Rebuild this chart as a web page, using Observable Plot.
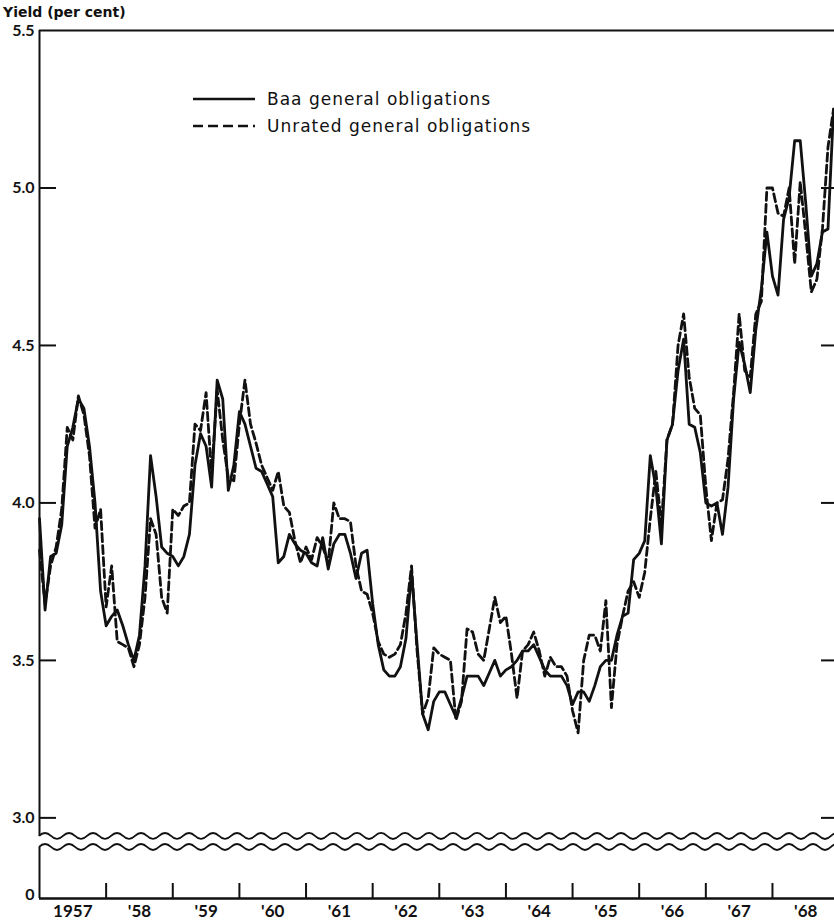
<!DOCTYPE html>
<html>
<head>
<meta charset="utf-8">
<script src="https://cdn.jsdelivr.net/npm/d3@7"></script>
<script src="https://cdn.jsdelivr.net/npm/@observablehq/plot@0.6"></script>
<style>
  body { margin: 0; background: #fff; }
  #wrap { position: relative; width: 834px; height: 921px; overflow: hidden; font-family: "DejaVu Sans", sans-serif; color: #111; }
  #chart { position: absolute; left: 0; top: 0; }
  #title { position: absolute; left: 3px; top: 4px; font-size: 14px; font-weight: bold; white-space: nowrap; }
  #legend { position: absolute; left: 193px; top: 85px; font-size: 17px; letter-spacing: 1px; }
  .row { display: flex; align-items: center; height: 27px; white-space: nowrap; }
  .row svg { width: 62px; height: 8px; margin-right: 12px; }
</style>
</head>
<body>
<div id="wrap">
  <div id="chart"></div>
  <div id="title">Yield (per cent)</div>
  <div id="legend"></div>
</div>
<script>
// ---- data (monthly, Jan 1957 .. Dec 1968) ----
const startYear = 1957;
const seriesNames = ["Baa general obligations", "Unrated general obligations"];
const baa = [
  3.95, 3.66, 3.83, 3.84, 3.93, 4.18, 4.24, 4.33, 4.30, 4.18, 4.00, 3.72,
  3.61, 3.64, 3.66, 3.61, 3.55, 3.50, 3.58, 3.80, 4.15, 4.02, 3.86, 3.84,
  3.83, 3.80, 3.83, 3.90, 4.12, 4.22, 4.18, 4.05, 4.39, 4.33, 4.04, 4.12,
  4.29, 4.25, 4.18, 4.11, 4.10, 4.06, 4.02, 3.81, 3.83, 3.90, 3.87, 3.85,
  3.84, 3.81, 3.80, 3.89, 3.79, 3.87, 3.90, 3.90, 3.84, 3.76, 3.84, 3.85,
  3.68, 3.55, 3.47, 3.45, 3.45, 3.48, 3.57, 3.78, 3.55, 3.33, 3.28, 3.37,
  3.40, 3.40, 3.36, 3.32, 3.38, 3.45, 3.45, 3.45, 3.42, 3.46, 3.50, 3.45,
  3.47, 3.48, 3.50, 3.53, 3.53, 3.55, 3.51, 3.47, 3.45, 3.45, 3.45, 3.42,
  3.36, 3.40, 3.40, 3.37, 3.42, 3.48, 3.50, 3.50, 3.58, 3.64, 3.65, 3.82,
  3.84, 3.88, 4.15, 4.05, 3.87, 4.20, 4.25, 4.42, 4.52, 4.25, 4.24, 4.16,
  4.00, 3.99, 4.00, 3.90, 4.05, 4.33, 4.51, 4.44, 4.35, 4.55, 4.68, 4.86,
  4.72, 4.66, 4.90, 4.97, 5.15, 5.15, 4.95, 4.72, 4.76, 4.86, 4.87, 5.25
];
const unrated = [
  3.85, 3.68, 3.80, 3.86, 3.98, 4.24, 4.20, 4.34, 4.28, 4.15, 3.92, 3.98,
  3.67, 3.80, 3.56, 3.55, 3.54, 3.48, 3.55, 3.70, 3.95, 3.90, 3.70, 3.65,
  3.98, 3.96, 3.99, 4.00, 4.25, 4.23, 4.35, 4.09, 4.36, 4.20, 4.08, 4.07,
  4.25, 4.39, 4.25, 4.19, 4.12, 4.08, 4.04, 4.10, 3.99, 3.97, 3.88, 3.81,
  3.86, 3.82, 3.89, 3.86, 3.81, 4.00, 3.95, 3.95, 3.94, 3.80, 3.72, 3.71,
  3.65, 3.56, 3.52, 3.51, 3.52, 3.55, 3.65, 3.80, 3.53, 3.33, 3.38, 3.54,
  3.52, 3.51, 3.50, 3.31, 3.37, 3.60, 3.59, 3.52, 3.50, 3.60, 3.70, 3.62,
  3.64, 3.52, 3.38, 3.53, 3.55, 3.59, 3.53, 3.45, 3.51, 3.48, 3.48, 3.45,
  3.34, 3.27, 3.50, 3.58, 3.58, 3.53, 3.69, 3.35, 3.55, 3.64, 3.72, 3.75,
  3.70, 3.78, 3.95, 4.10, 3.93, 4.20, 4.25, 4.50, 4.60, 4.40, 4.30, 4.28,
  4.05, 3.88, 4.00, 4.01, 4.14, 4.35, 4.60, 4.42, 4.40, 4.60, 4.64, 5.00,
  5.00, 4.92, 4.91, 5.00, 4.76, 5.02, 4.85, 4.67, 4.71, 4.87, 5.13, 5.25
];
const yTickValues = [3.0, 3.5, 4.0, 4.5, 5.0, 5.5];
const yTickLabels = ["3.0", "3.5", "4.0", "4.5", "5.0", "5.5"];
const yInnerTicks = [3.0, 3.5, 4.0, 4.5, 5.0];
const zeroLabel = "0";
const yearTicks = [1958, 1959, 1960, 1961, 1962, 1963, 1964, 1965, 1966, 1967, 1968];
const yearLabelYears = [1957, 1958, 1959, 1960, 1961, 1962, 1963, 1964, 1965, 1966, 1967, 1968];
const yearLabels = ["1957", "'58", "'59", "'60", "'61", "'62", "'63", "'64", "'65", "'66", "'67", "'68"];

// ---- scale layout (broken axis: zero sits at the bottom of the frame) ----
const yZero = 2.744;       // value position where "0" is drawn
const breakTop = 2.941;    // upper wavy line
const breakBottom = 2.906; // lower wavy line
const xDomain = [1957, 1968.931];

const toRows = (arr, name) => arr.map((v, i) => ({t: startYear + i / 12, v, s: name}));
const baaRows = toRows(baa, seriesNames[0]);
const unrRows = toRows(unrated, seriesNames[1]);
const yLabelMap = new Map(yTickValues.map((v, i) => [v, yTickLabels[i]]));
const xLabelMap = new Map(yearLabelYears.map((y, i) => [y + 0.5, yearLabels[i]]));

const ink = "#111";
const labelFont = "Lato, 'DejaVu Sans', sans-serif";

const breakMark = (index, scales, values, dimensions) => {
  const {width, marginLeft, marginRight} = dimensions;
  const x0 = marginLeft, x1 = width - marginRight;
  const yA = scales.y(breakTop), yB = scales.y(breakBottom);
  const g = d3.create("svg:g");
  g.append("rect").attr("x", x0 - 4).attr("y", yA).attr("width", x1 - x0 + 8).attr("height", yB - yA).attr("fill", "#fff");
  const wave = (y) => {
    let d = `M${x0},${y}`;
    let k = 0;
    for (let x = x0; x < x1 + 12; x += 12, k++) d += ` q6,${k % 2 ? 6 : -6} 12,0`;
    return d;
  };
  for (const y of [yA, yB]) {
    g.append("path").attr("d", wave(y)).attr("fill", "none").attr("stroke", ink).attr("stroke-width", 1.8);
  }
  return g.node();
};

const chart = Plot.plot({
  width: 834,
  height: 921,
  marginLeft: 39,
  marginRight: 0,
  marginTop: 30,
  marginBottom: 23,
  style: {fontFamily: labelFont, color: ink, background: "transparent", overflow: "visible"},
  x: {domain: xDomain},
  y: {domain: [yZero, 5.5]},
  marks: [
    Plot.line(baaRows, {x: "t", y: "v", stroke: ink, strokeWidth: 2.8, strokeLinejoin: "round"}),
    Plot.line(unrRows, {x: "t", y: "v", stroke: ink, strokeWidth: 2.8, strokeDasharray: "8,4"}),
    Plot.ruleY([5.5], {stroke: ink, strokeWidth: 2}),
    Plot.ruleY([yZero], {stroke: ink, strokeWidth: 2.5}),
    Plot.ruleX([xDomain[0]], {stroke: ink, strokeWidth: 2}),
    breakMark,
    // inward ticks
    Plot.axisY(yInnerTicks, {anchor: "left", tickSize: 17, dx: 17, tickFormat: () => "", label: null, stroke: ink, strokeWidth: 2}),
    Plot.axisY(yInnerTicks, {anchor: "right", tickSize: 14, dx: -14, tickFormat: () => "", label: null, stroke: ink, strokeWidth: 2}),
    Plot.axisX(yearTicks, {anchor: "bottom", tickSize: 15, dy: -15, tickFormat: () => "", label: null, stroke: ink, strokeWidth: 2}),
    // labels
    Plot.axisY(yTickValues, {anchor: "left", tickSize: 0, tickPadding: 5, tickFormat: d => yLabelMap.get(d), label: null, fontSize: 16, fontWeight: "bold", fill: ink}),
    Plot.text([yZero], {y: d => d, frameAnchor: "left", text: () => zeroLabel, textAnchor: "end", dx: -5, dy: -4, fontSize: 16, fontWeight: "bold", fill: ink}),
    Plot.axisX([...xLabelMap.keys()], {anchor: "bottom", tickSize: 0, tickPadding: 6, tickFormat: d => xLabelMap.get(d), label: null, fontSize: 17, fontWeight: "bold", fill: ink})
  ]
});
document.getElementById("chart").appendChild(chart);

// legend
const legend = document.getElementById("legend");
const dashes = ["none", "10,5"];
seriesNames.forEach((name, i) => {
  const row = document.createElement("div");
  row.className = "row";
  row.innerHTML = `<svg viewBox="0 0 62 8"><line x1="0" y1="4" x2="62" y2="4" stroke="${ink}" stroke-width="2.4" stroke-dasharray="${dashes[i]}"/></svg><span>${name}</span>`;
  legend.appendChild(row);
});
</script>
</body>
</html>
